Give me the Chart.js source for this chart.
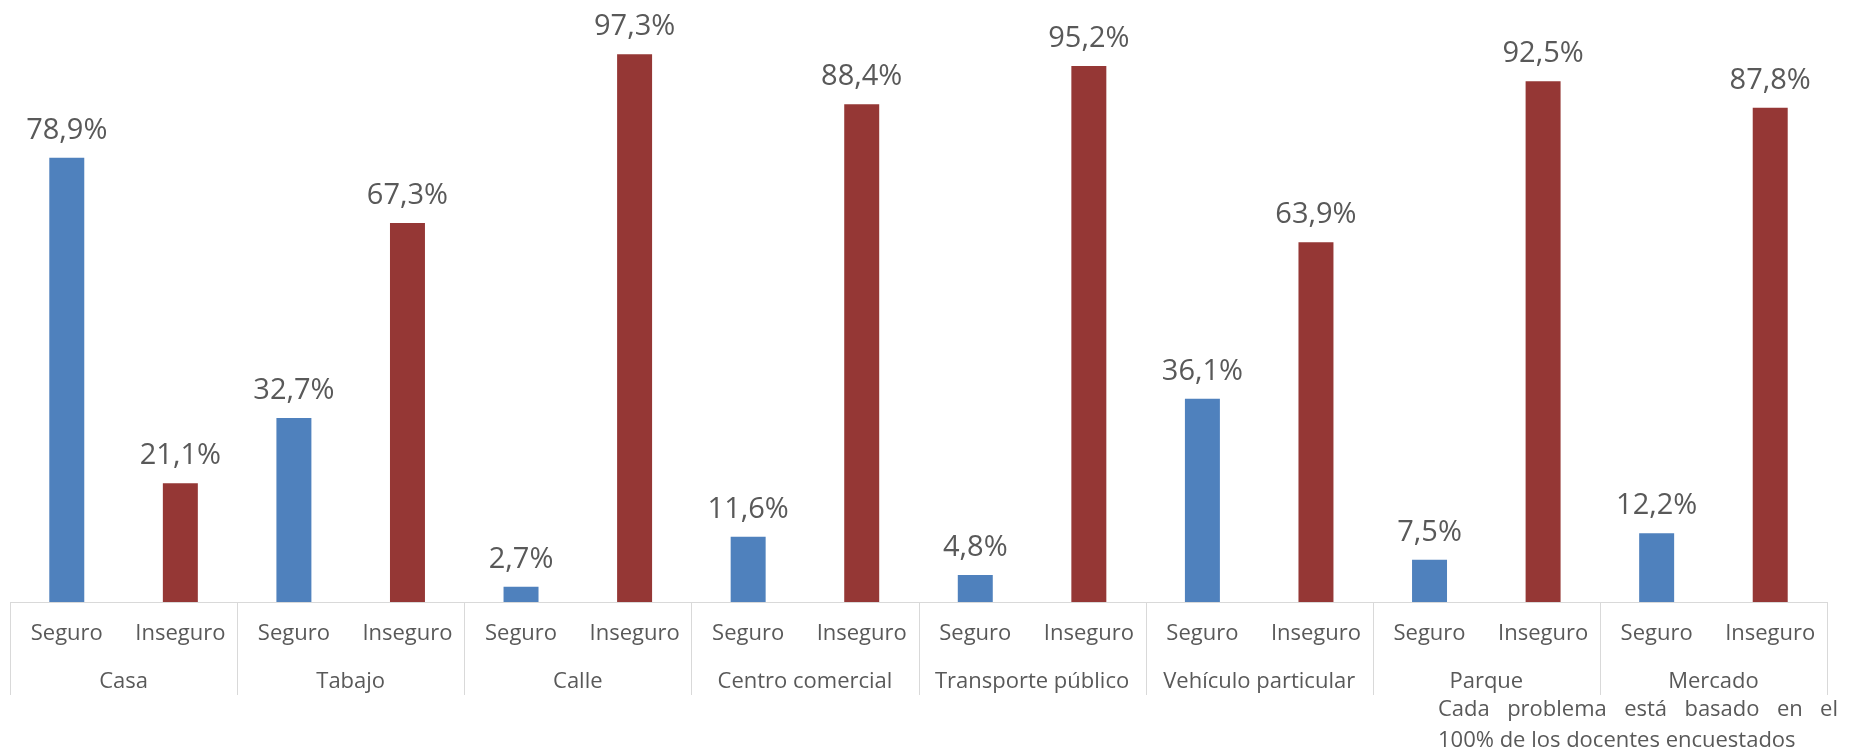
<!DOCTYPE html>
<html lang="es">
<head>
    <meta charset="UTF-8">
    <title>Percepción de seguridad por lugar</title>
    <script src="https://cdn.jsdelivr.net/npm/chart.js"></script>
    <style>
        body { margin: 0; background: #fff; font-family: "Open Sans", sans-serif; }
        .chart-wrap { position: relative; width: 1852px; height: 747px; }
        .note { position: absolute; left: 1438px; top: 692px; width: 400px; font-size: 22px; line-height: 31px; color: #595959; }
        .note .l1 { text-align: justify; text-align-last: justify; }
    </style>
</head>
<body>

<div class="chart-wrap">
    <canvas id="chart"></canvas>
    <div class="note">
        <div class="l1">Cada problema está basado en el</div>
        <div>100% de los docentes encuestados</div>
    </div>
</div>

<script>
    // Data
    const groups = ['Casa', 'Tabajo', 'Calle', 'Centro comercial', 'Transporte público', 'Vehículo particular', 'Parque', 'Mercado'];
    const answers = ['Seguro', 'Inseguro'];
    const seguro = [78.9, 32.7, 2.7, 11.6, 4.8, 36.1, 7.5, 12.2];
    const inseguro = [21.1, 67.3, 97.3, 88.4, 95.2, 63.9, 92.5, 87.8];

    const blue = '#4F81BD';
    const red = '#953735';

    // interleave Seguro / Inseguro for each place
    const labels = [];
    const values = [];
    const colors = [];
    groups.forEach((g, i) => {
        labels.push(answers[0], answers[1]);
        values.push(seguro[i], inseguro[i]);
        colors.push(blue, red);
    });

    const fmt = v => v.toFixed(1).replace('.', ',') + '%';

    // value labels above each bar
    const valueLabels = {
        id: 'valueLabels',
        afterDatasetsDraw(chart) {
            const ctx = chart.ctx;
            const meta = chart.getDatasetMeta(0);
            ctx.save();
            ctx.font = '29px "Open Sans"';
            ctx.fillStyle = '#595959';
            ctx.textAlign = 'center';
            ctx.textBaseline = 'alphabetic';
            meta.data.forEach((bar, i) => {
                ctx.fillText(fmt(values[i]), bar.x, bar.y - 19);
            });
            ctx.restore();
        }
    };

    // vertical separators between the places
    const groupLines = {
        id: 'groupLines',
        afterDraw(chart) {
            const x = chart.scales.x;
            const ctx = chart.ctx;
            const step = x.width / labels.length;
            const y0 = x.top;
            const y1 = y0 + 93;
            ctx.save();
            ctx.strokeStyle = '#d9d9d9';
            ctx.lineWidth = 1;
            for (let g = 0; g <= groups.length; g++) {
                const px = Math.round(x.getPixelForValue(g * 2) - step / 2) + 0.5;
                ctx.beginPath();
                ctx.moveTo(px, y0);
                ctx.lineTo(px, y1);
                ctx.stroke();
            }
            ctx.restore();
        }
    };

    new Chart(document.getElementById('chart'), {
        type: 'bar',
        data: {
            labels: labels,
            datasets: [{
                data: values,
                backgroundColor: colors,
                barPercentage: 0.308,
                categoryPercentage: 1
            }]
        },
        options: {
            responsive: true,
            maintainAspectRatio: false,
            animation: false,
            layout: { padding: { left: 10, right: 25, top: 39, bottom: 45 } },
            plugins: {
                legend: { display: false },
                tooltip: { enabled: false }
            },
            scales: {
                y: {
                    display: false,
                    min: 0,
                    max: 100
                },
                x: {
                    position: 'bottom',
                    grid: { display: false, drawTicks: false },
                    border: { display: true, color: '#d9d9d9', width: 1 },
                    ticks: {
                        color: '#595959',
                        font: { family: 'Open Sans', size: 22 },
                        padding: 19,
                        maxRotation: 0,
                        autoSkip: false
                    },
                    afterFit(scale) { scale.height = 55; }
                },
                x2: {
                    type: 'category',
                    position: 'bottom',
                    labels: groups,
                    grid: { display: false, drawTicks: false },
                    border: { display: false },
                    ticks: {
                        color: '#595959',
                        font: { family: 'Open Sans', size: 22 },
                        padding: 12,
                        maxRotation: 0,
                        autoSkip: false
                    },
                    afterFit(scale) { scale.height = 45; }
                }
            }
        },
        plugins: [valueLabels, groupLines]
    });
</script>

</body>
</html>
